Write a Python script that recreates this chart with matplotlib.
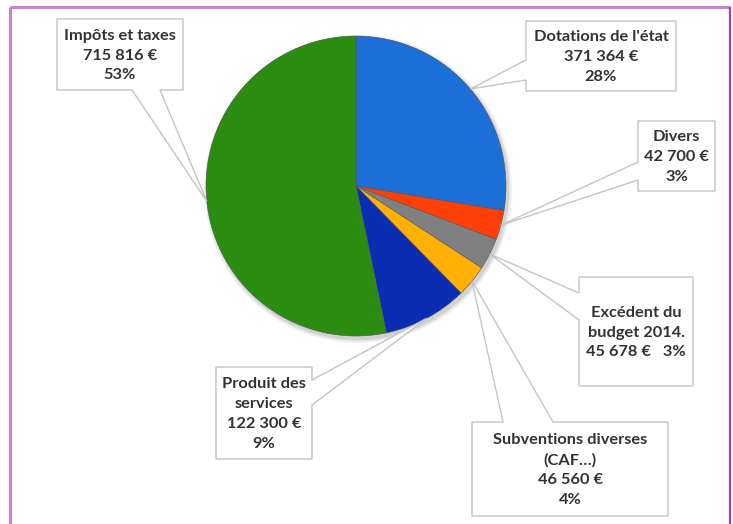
import matplotlib
matplotlib.use("Agg")
import matplotlib.pyplot as plt
from matplotlib.patches import Polygon, Circle
import numpy as np

# ---- data ----
categories = ["Dotations de l'état", "Divers", "Excédent du budget 2014.",
              "Subventions diverses (CAF…)", "Produit des services", "Impôts et taxes"]
values = [371364, 42700, 45678, 46560, 122300, 715816]
value_labels = ["371 364 €", "42 700 €", "45 678 €", "46 560 €", "122 300 €", "715 816 €"]
pct_labels = ["28%", "3%", "3%", "4%", "9%", "53%"]
label_texts = [
    "Dotations de l'état\n371 364 €\n28%",
    "Divers\n42 700 €\n3%",
    "Excédent du\nbudget 2014.\n45 678 €   3%",
    "Subventions diverses\n(CAF…)\n46 560 €\n4%",
    "Produit des\nservices\n122 300 €\n9%",
    "Impôts et taxes\n715 816 €\n53%",
]
colors = ["#1b6fd6", "#ff3f08", "#808080", "#ffb000", "#0b2db3", "#2a8c10"]

# ---- layout (pixel coords of the 733x524 canvas) ----
W, H = 733, 524
center = (356, 186)
radius = 150
boxes = [
    ((526, 21, 676, 91), "left", (60, 80)),
    ((638, 121, 715, 191), "left", (162, 180)),
    ((579, 277, 693, 386), "left", (293, 320)),
    ((472, 422, 668, 516), "top", (503, 553)),
    ((216, 367, 312, 459), "right", (380, 405)),
    ((57, 19, 183, 90), "bottom", (132, 160)),
]

fig = plt.figure(figsize=(W / 100, H / 100), dpi=100)
ax = fig.add_axes([0, 0, 1, 1])

# soft shadow
for i, a in enumerate([0.05, 0.06, 0.08]):
    ax.add_patch(Circle((center[0] + 2, center[1] + 3), radius + 4 - i * 1.5,
                        facecolor="#000000", alpha=a, edgecolor="none", zorder=1))

wedges, _ = ax.pie(values, colors=colors, startangle=-90, counterclock=True,
                   center=center, radius=radius, frame=True,
                   wedgeprops=dict(linewidth=0.4, edgecolor="#555555"))
for w in wedges:
    w.set_zorder(2)
ax.set_xlim(0, W)
ax.set_ylim(H, 0)
ax.set_aspect("equal")
ax.axis("off")

def edge_points(box, side, att):
    x0, y0, x1, y1 = box
    if side == "left":
        return [(x0, att[0]), (x0, att[1])]
    if side == "right":
        return [(x1, att[0]), (x1, att[1])]
    if side == "top":
        return [(att[0], y0), (att[1], y0)]
    return [(att[0], y1), (att[1], y1)]

for w, txt, (box, side, att) in zip(wedges, label_texts, boxes):
    mid = np.deg2rad((w.theta1 + w.theta2) / 2)
    tip = (center[0] + radius * np.cos(mid), center[1] + radius * np.sin(mid))
    x0, y0, x1, y1 = box
    p1, p2 = edge_points(box, side, att)
    if side == "left":
        pts = [(x0, y0), (x1, y0), (x1, y1), (x0, y1), p2, tip, p1]
    elif side == "right":
        pts = [(x0, y0), (x1, y0), p1, tip, p2, (x1, y1), (x0, y1)]
    elif side == "top":
        pts = [(x0, y0), p1, tip, p2, (x1, y0), (x1, y1), (x0, y1)]
    else:
        pts = [(x0, y0), (x1, y0), (x1, y1), p2, tip, p1, (x0, y1)]
    ax.add_patch(Polygon(pts, closed=True, facecolor="white", edgecolor="#c4c4c4",
                         linewidth=1.0, zorder=5))
    ax.text((x0 + x1) / 2, (y0 + y1) / 2 + 1, txt, ha="center", va="center",
            fontsize=11.8, fontweight="bold", family=["Lato", "DejaVu Sans"],
            color="#333333", linespacing=1.52, zorder=6)

# purple frame
fc = "#c486c8"
ax.plot([10, 10], [7, H], color=fc, lw=2.2, solid_capstyle="butt", zorder=10)
ax.plot([10, 730], [7, 7], color=fc, lw=2.2, solid_capstyle="butt", zorder=10)
ax.plot([730, 730], [7, H], color="#a040b0", lw=1.6, solid_capstyle="butt", zorder=10)

fig.savefig("out.png", dpi=100)
